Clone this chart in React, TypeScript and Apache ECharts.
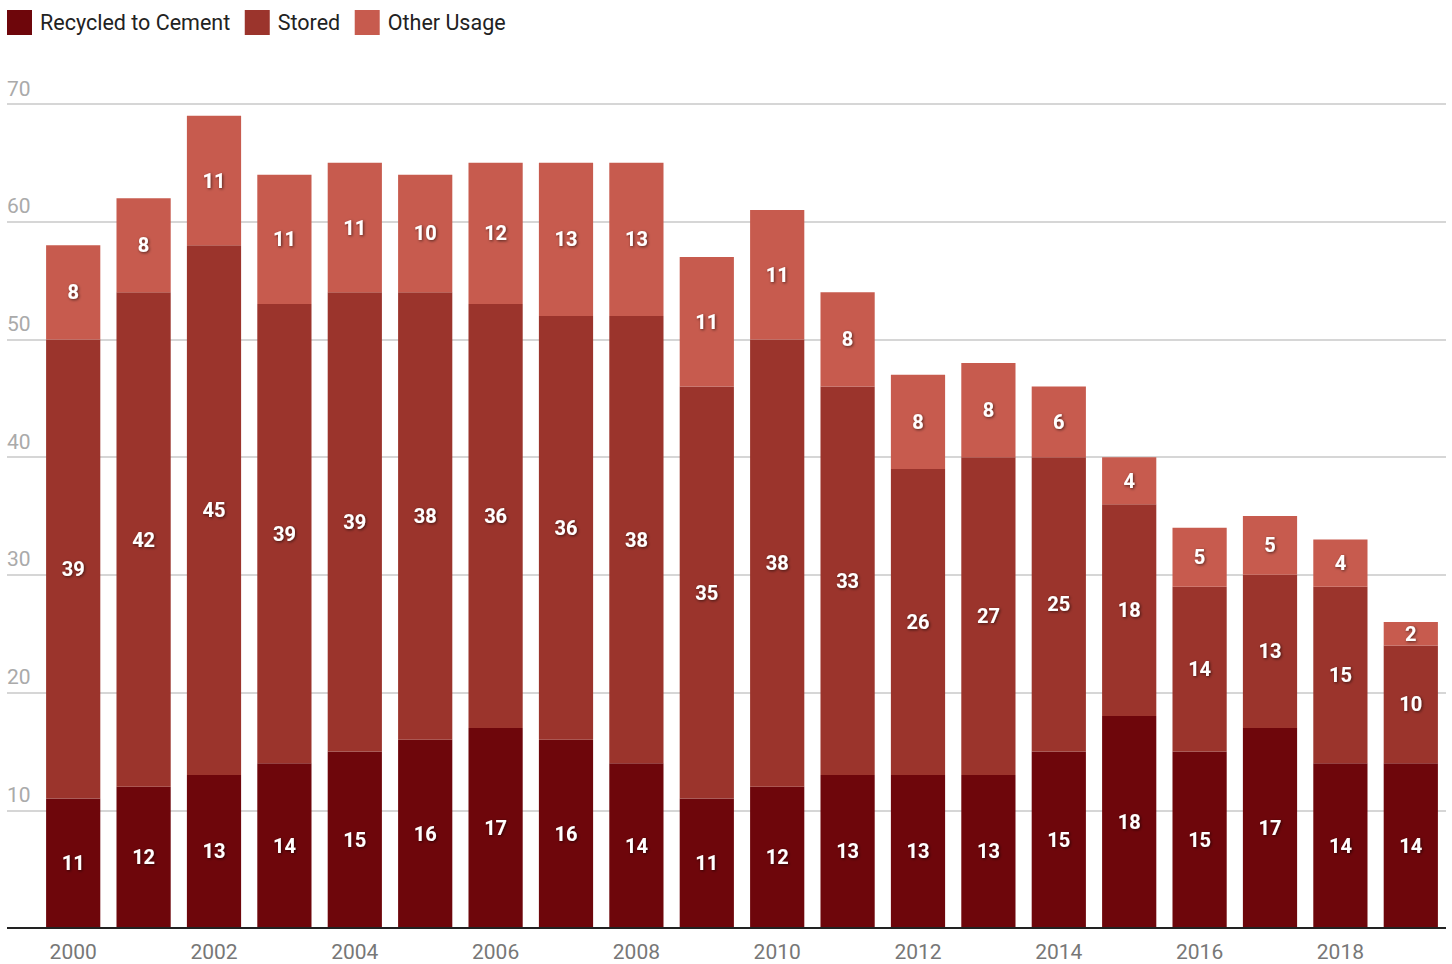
import React, { useEffect, useRef } from "react";
import * as echarts from "echarts";

const years = ["2000","2001","2002","2003","2004","2005","2006","2007","2008","2009","2010","2011","2012","2013","2014","2015","2016","2017","2018","2019"];
const recycled = [11,12,13,14,15,16,17,16,14,11,12,13,13,13,15,18,15,17,14,14];
const stored = [39,42,45,39,39,38,36,36,38,35,38,33,26,27,25,18,14,13,15,10];
const other = [8,8,11,11,11,10,12,13,13,11,11,8,8,8,6,4,5,5,4,2];
const seriesNames = ["Recycled to Cement", "Stored", "Other Usage"];
const colors = ["#6e060b", "#9b342c", "#c75b4e"];

export default function App() {
  const ref = useRef<HTMLDivElement>(null);
  useEffect(() => {
    if (!ref.current) return;
    const chart = echarts.init(ref.current, null, { renderer: "svg" });
    const label = {
      show: true,
      position: "inside",
      color: "#fff",
      fontFamily: "Roboto",
      fontWeight: "bold",
      fontSize: 20,
      textShadowColor: "rgba(0,0,0,0.6)",
      textShadowBlur: 3,
      textShadowOffsetX: 1,
      textShadowOffsetY: 1,
    };
    const datas = [recycled, stored, other];
    chart.setOption({
      animation: false,
      textStyle: { fontFamily: "Roboto" },
      legend: {
        left: 7,
        top: 10,
        padding: 0,
        itemWidth: 25,
        itemHeight: 25,
        itemGap: 14.5,
        icon: "rect",
        textStyle: { fontSize: 21.5, color: "#222", fontFamily: "Roboto", padding: [0, 0, 0, 3] },
        data: seriesNames,
      },
      grid: [
        { left: 7, right: 6, top: 104, bottom: 36 },
        { left: 38, right: 6, top: 104, bottom: 36 },
      ],
      xAxis: [
        {
          gridIndex: 0,
          type: "value",
          min: 0,
          max: 1,
          show: true,
          axisLine: { show: false },
          axisTick: { show: false },
          axisLabel: { show: false },
          splitLine: { show: false },
        },
        {
          gridIndex: 1,
          type: "category",
          data: years,
          axisLine: { show: false },
          axisTick: { show: false },
          axisLabel: {
            interval: 1,
            color: "#777",
            fontSize: 21,
            fontFamily: "Roboto",
            margin: 13,
          },
        },
      ],
      yAxis: [
        {
          gridIndex: 0,
          type: "value",
          min: 0,
          max: 70,
          interval: 10,
          axisLine: { show: false },
          axisTick: { show: false },
          axisLabel: {
            inside: true,
            margin: 0,
            verticalAlign: "bottom",
            align: "left",
            color: "#aaa",
            fontSize: 21,
            fontFamily: "Roboto",
            padding: [0, 0, 5, 0],
            showMinLabel: false,
          },
          splitLine: { show: true, lineStyle: { color: "#c8c8c8", width: 1.5 } },
        },
        {
          gridIndex: 1,
          type: "value",
          min: 0,
          max: 70,
          interval: 10,
          show: false,
          splitLine: { show: false },
        },
      ],
      series: [
        {
          type: "line",
          xAxisIndex: 0,
          yAxisIndex: 0,
          data: [[0, 0], [1, 0]],
          symbol: "none",
          lineStyle: { color: "#222", width: 2 },
          silent: true,
          z: 5,
        },
        ...datas.map((d, i) => ({
          name: seriesNames[i],
          type: "bar",
          stack: "total",
          xAxisIndex: 1,
          yAxisIndex: 1,
          barWidth: "77%",
          data: d,
          itemStyle: { color: colors[i] },
          label,
          z: 3,
        })),
      ],
    });
    return () => chart.dispose();
  }, []);
  return <div ref={ref} style={{ width: 1452, height: 964, position: "absolute", left: 0, top: 0 }} />;
}
